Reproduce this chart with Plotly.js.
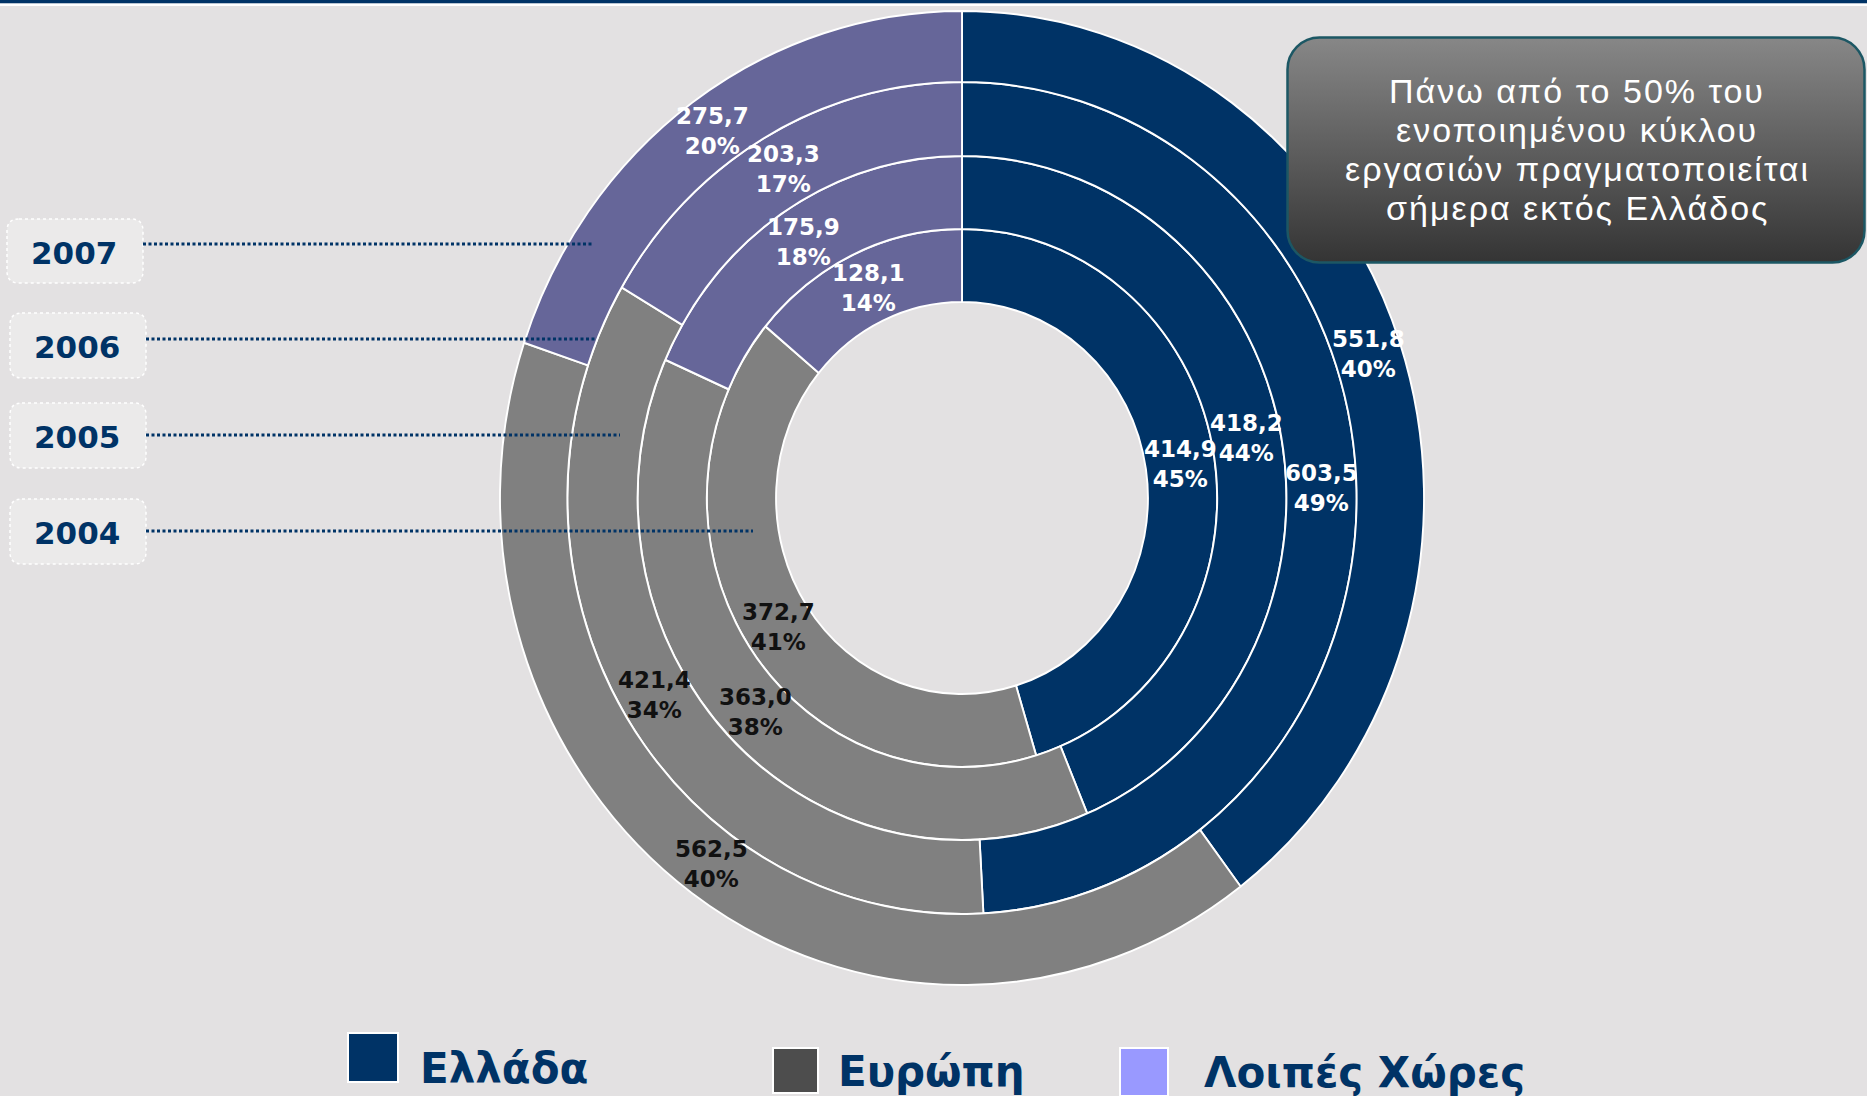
<!DOCTYPE html>
<html>
<head>
<meta charset="utf-8">
<script src="https://cdn.plot.ly/plotly-3.0.1.min.js"></script>
<style>
  html, body { margin:0; padding:0; background:#e3e1e2; overflow:hidden; }
  #wrap { position:relative; width:1867px; height:1096px; }
  #rings { position:absolute; left:0; top:0; width:1867px; height:1096px;
           transform:scaleX(0.9487); transform-origin:962px 0; }
  #overlay { position:absolute; left:0; top:0; width:1867px; height:1096px; }
</style>
</head>
<body>
<div id="wrap">
  <div id="rings"></div>
  <div id="overlay"></div>
</div>
<script>
// ---------- data ----------
const years = ['2004', '2005', '2006', '2007'];
const regions = ['Ελλάδα', 'Ευρώπη', 'Λοιπές Χώρες'];
const v2004 = [414.9, 372.7, 128.1];
const v2005 = [418.2, 363.0, 175.9];
const v2006 = [603.5, 421.4, 203.3];
const v2007 = [551.8, 562.5, 275.7];
const sliceColors = ['#003366', '#808080', '#666699'];
const legendColors = ['#003366', '#4d4d4d', '#9999ff'];
const labelColors = ['#ffffff', '#111111', '#ffffff'];
const boxLines = ['Πάνω από το 50% του', 'ενοποιημένου κύκλου', 'εργασιών πραγματοποιείται', 'σήμερα εκτός Ελλάδος'];

// ---------- geometry ----------
const W = 1867, H = 1096;
const CX = 962, CY = 498;
const SX = 0.9487;                        // horizontal squeeze of the ring stack
const radii = [196, 269, 342, 416, 487];  // hole, then outer edge of 2004..2007 rings
const X = px => px / W;
const Y = py => 1 - py / H;

const seriesByYear = [v2004, v2005, v2006, v2007];
const traces = seriesByYear.map((vals, i) => {
  const rOut = radii[i + 1], rIn = radii[i];
  return {
    type: 'pie',
    name: years[i],
    labels: regions,
    values: vals,
    sort: false,
    direction: 'clockwise',
    rotation: 0,
    hole: rIn / rOut,
    domain: { x: [X(CX - rOut), X(CX + rOut)], y: [Y(CY + rOut), Y(CY - rOut)] },
    marker: { colors: sliceColors, line: { color: '#ffffff', width: 2 } },
    textinfo: 'none',
    hoverinfo: 'none',
    showlegend: false
  };
});

Plotly.newPlot('rings', traces, {
  width: W, height: H,
  margin: { l: 0, r: 0, t: 0, b: 0 },
  paper_bgcolor: 'rgba(0,0,0,0)',
  showlegend: false
}, { staticPlot: true });

// ---------- overlay ----------
const shapes = [];
const annotations = [];

// slice labels: value and share, placed at each slice's mid-angle, mid-ring
seriesByYear.forEach((vals, i) => {
  const total = vals.reduce((a, b) => a + b, 0);
  const rMid = (radii[i] + radii[i + 1]) / 2;
  let cum = 0;
  vals.forEach((v, j) => {
    const theta = 2 * Math.PI * (cum + v / 2) / total;
    cum += v;
    const px = CX + SX * rMid * Math.sin(theta);
    const py = CY - rMid * Math.cos(theta);
    annotations.push({ xref: 'paper', yref: 'paper', x: X(px), y: Y(py), xanchor: 'center', yanchor: 'middle',
      text: v.toFixed(1).replace('.', ',') + '<br>' + Math.round(100 * v / total) + '%',
      showarrow: false, align: 'center',
      font: { family: 'DejaVu Sans', size: 23, weight: 'bold', color: labelColors[j] } });
  });
});

// top border
shapes.push({ type: 'rect', xref: 'paper', yref: 'paper', x0: 0, x1: 1, y0: Y(3.5), y1: 1,
  fillcolor: '#003366', line: { width: 0 } });
shapes.push({ type: 'rect', xref: 'paper', yref: 'paper', x0: 0, x1: 1, y0: Y(6), y1: Y(3.5),
  fillcolor: '#ffffff', line: { width: 0 } });

function roundRect(x0, y0, x1, y1, r) {
  const p = [
    ['M', x0 + r, y0], ['L', x1 - r, y0], ['Q', x1, y0, x1, y0 + r],
    ['L', x1, y1 - r], ['Q', x1, y1, x1 - r, y1], ['L', x0 + r, y1],
    ['Q', x0, y1, x0, y1 - r], ['L', x0, y0 + r], ['Q', x0, y0, x0 + r, y0]
  ];
  return p.map(c => {
    const cmd = c[0]; const nums = c.slice(1);
    const pts = [];
    for (let k = 0; k < nums.length; k += 2) pts.push(X(nums[k]) + ',' + Y(nums[k + 1]));
    return cmd + pts.join(' ');
  }).join(' ') + ' Z';
}

// year boxes (inner ring first)
const yearBoxes = [
  { y0: 499, y1: 564, x0: 10, x1: 146, tx: 77, ty: 533, lineY: 531, lineEnd: 753 },
  { y0: 403, y1: 468, x0: 10, x1: 146, tx: 77, ty: 437, lineY: 435, lineEnd: 620 },
  { y0: 313, y1: 378, x0: 10, x1: 146, tx: 77, ty: 347, lineY: 339, lineEnd: 597 },
  { y0: 219, y1: 283, x0: 7,  x1: 143, tx: 74, ty: 253, lineY: 244, lineEnd: 593 }
];
yearBoxes.forEach((b, i) => {
  shapes.push({ type: 'path', xref: 'paper', yref: 'paper', path: roundRect(b.x0, b.y0, b.x1, b.y1, 12),
    fillcolor: '#ebeaea', line: { color: '#ffffff', width: 1.5, dash: 'dot' } });
  shapes.push({ type: 'line', xref: 'paper', yref: 'paper', x0: X(b.x1), x1: X(b.lineEnd), y0: Y(b.lineY), y1: Y(b.lineY),
    line: { color: '#003366', width: 3, dash: '3px,2.5px' } });
  annotations.push({ xref: 'paper', yref: 'paper', x: X(b.tx), y: Y(b.ty), xanchor: 'center', yanchor: 'middle',
    text: years[i], showarrow: false,
    font: { family: 'DejaVu Sans', size: 31, weight: 'bold', color: '#003366' } });
});

// legend squares + labels
const legendItems = [
  { x0: 348, x1: 398, y0: 1033, y1: 1082, tx: 418, ty: 1068 },
  { x0: 773, x1: 818, y0: 1048, y1: 1093, tx: 836, ty: 1071 },
  { x0: 1120, x1: 1168, y0: 1048, y1: 1096, tx: 1202, ty: 1072 }
];
legendItems.forEach((it, i) => {
  shapes.push({ type: 'rect', xref: 'paper', yref: 'paper', x0: X(it.x0), x1: X(it.x1), y0: Y(it.y1), y1: Y(it.y0),
    fillcolor: legendColors[i], line: { color: '#ffffff', width: 2 } });
  annotations.push({ xref: 'paper', yref: 'paper', x: X(it.tx), y: Y(it.ty), xanchor: 'left', yanchor: 'middle',
    text: regions[i], showarrow: false,
    font: { family: 'DejaVu Sans', size: 42, weight: 'bold', color: '#003366' } });
});

// callout box
const boxSvg = "<svg xmlns='http://www.w3.org/2000/svg' width='580' height='228'>" +
  "<defs><linearGradient id='g' x1='0' y1='0' x2='0' y2='1'>" +
  "<stop offset='0' stop-color='#878787'/><stop offset='0.5' stop-color='#5e5e5e'/><stop offset='1' stop-color='#343434'/>" +
  "</linearGradient></defs>" +
  "<rect x='1.5' y='1.5' width='577' height='225' rx='32' ry='32' fill='url(#g)' stroke='#1c5764' stroke-width='2.5'/></svg>";
const images = [{
  source: 'data:image/svg+xml;charset=utf-8,' + encodeURIComponent(boxSvg),
  xref: 'paper', yref: 'paper', x: X(1286), y: Y(36), sizex: 580 / W, sizey: 228 / H,
  xanchor: 'left', yanchor: 'top', sizing: 'stretch', layer: 'above'
}];
const boxLineY = [91, 130, 169, 208];
boxLines.forEach((t, k) => {
  annotations.push({ xref: 'paper', yref: 'paper', x: X(1577), y: Y(boxLineY[k]), xanchor: 'center', yanchor: 'middle',
    text: t, align: 'center', showarrow: false, name: 'boxline',
    font: { family: 'Liberation Sans', size: 34, color: '#ffffff' } });
});

Plotly.newPlot('overlay', [], {
  width: W, height: H,
  margin: { l: 0, r: 0, t: 0, b: 0 },
  paper_bgcolor: 'rgba(0,0,0,0)',
  plot_bgcolor: 'rgba(0,0,0,0)',
  xaxis: { visible: false, range: [0, 1], fixedrange: true },
  yaxis: { visible: false, range: [0, 1], fixedrange: true },
  shapes: shapes,
  annotations: annotations,
  images: images,
  showlegend: false
}, { staticPlot: true }).then(() => {
  document.querySelectorAll('#overlay .annotation-text').forEach(el => {
    if (boxLines.indexOf(el.textContent) >= 0) el.style.letterSpacing = '2px';
  });
});
</script>
</body>
</html>
